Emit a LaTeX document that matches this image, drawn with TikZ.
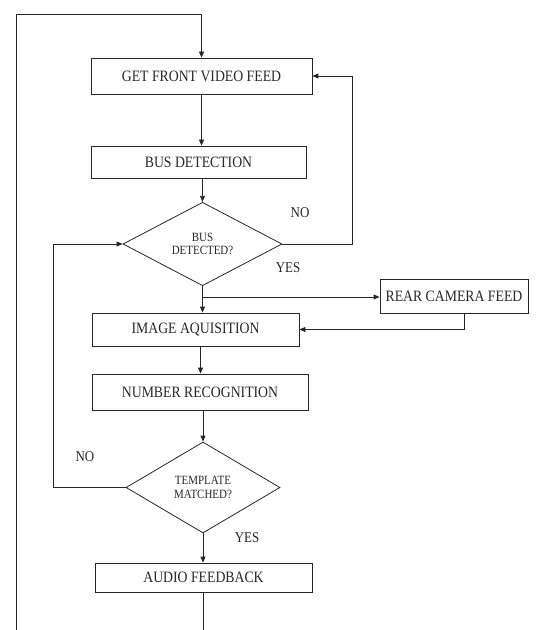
\documentclass[tikz,border=0pt]{standalone}
\usepackage{fontspec}
\setmainfont{Liberation Serif}
\usetikzlibrary{shapes.geometric,arrows.meta}
\newcommand{\tallx}[1]{\scalebox{1}[1.15]{#1}}
\begin{document}
\begin{tikzpicture}[x=1bp,y=-1bp,line width=0.8bp,black!85,
  box/.style={draw,rectangle,inner sep=0pt,font=\fontsize{13.8}{15}\selectfont},
  dia/.style={draw,diamond,inner sep=0pt,align=center,font=\fontsize{11}{13.5}\selectfont},
  arr/.style={-{Triangle[length=6bp,width=5bp]}},
  lbl/.style={inner sep=0pt,font=\fontsize{13}{14}\selectfont}]
\useasboundingbox (0,0) rectangle (538,630);
\node[box,minimum width=221bp,minimum height=36bp] (b1) at (201.5,76) {\tallx{GET FRONT VIDEO FEED}};
\node[box,minimum width=215bp,minimum height=32bp] (b2) at (198.5,162) {\tallx{BUS DETECTION}};
\node[dia,minimum width=159bp,minimum height=75bp] (d1) at (202.5,244) {\tallx{BUS}\\\tallx{DETECTED?}};
\node[box,minimum width=148bp,minimum height=34bp] (rear) at (454,296) {\tallx{REAR CAMERA FEED}};
\node[box,minimum width=207bp,minimum height=33bp] (b3) at (195.5,329.5) {\tallx{IMAGE AQUISITION}};
\node[box,minimum width=216bp,minimum height=36bp] (b4) at (200,392) {\tallx{NUMBER RECOGNITION}};
\node[dia,minimum width=154bp,minimum height=91bp] (d2) at (203,487.5) {\tallx{TEMPLATE}\\\tallx{MATCHED?}};
\node[box,minimum width=217bp,minimum height=29bp] (b5) at (203.5,577.5) {\tallx{AUDIO FEEDBACK}};
\node[lbl] (no1) at (300,213) {\tallx{NO}};
\node[lbl] (yes1) at (288,268) {\tallx{YES}};
\node[lbl] (no2) at (85,457) {\tallx{NO}};
\node[lbl] (yes2) at (247,538) {\tallx{YES}};
\coordinate (tl) at (16,14);
\coordinate (bl) at (16,630);
\coordinate (r1) at (352,0);
\coordinate (l2) at (53,0);
\coordinate (br) at (202.5,297);
\coordinate (ab) at (203.5,630);
% main flow
\draw[arr] (bl) -- (tl) -- (tl -| b1.north) -- (b1.north);
\draw[arr] (b1.south) -- (b1.south |- b2.north);
\draw[arr] (b2.south -| d1.north) -- (d1.north);
\draw[arr] (d1.south) -- (d1.south |- b3.north);
\draw[arr] (br) -- (br -| rear.west);
\draw[arr] ([xshift=10bp]rear.south) |- (b3.east);
\draw[arr] ([xshift=5bp]b3.south) -- ([xshift=5bp]b3.south |- b4.north);
\draw[arr] (b4.south -| d2.north) -- (d2.north);
\draw[arr] (d2.south) -- (d2.south |- b5.north);
\draw (b5.south -| ab) -- (ab);
% loops
\draw[arr] (d1.east) -- (d1.east -| r1) -- (b1.east -| r1) -- (b1.east);
\draw[arr] (d2.west) -- (d2.west -| l2) -- (d1.west -| l2) -- (d1.west);
\end{tikzpicture}
\end{document}
